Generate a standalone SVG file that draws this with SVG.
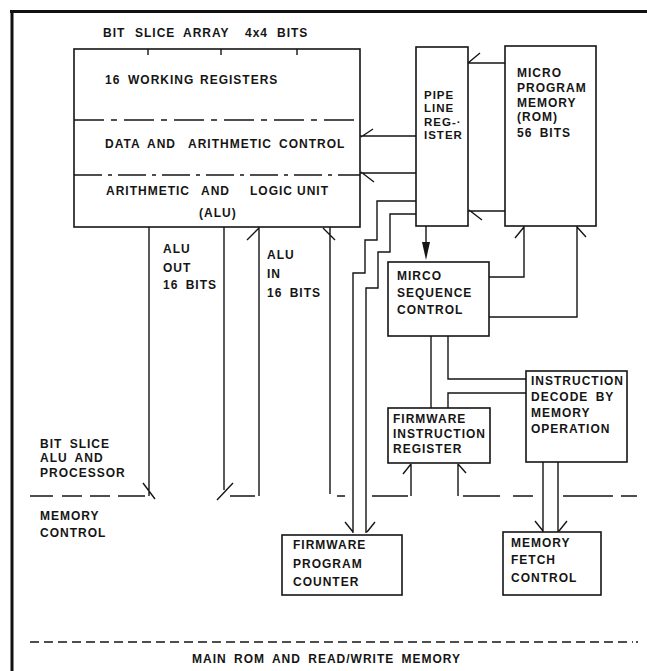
<svg xmlns="http://www.w3.org/2000/svg" width="647" height="671" viewBox="0 0 647 671">
<style>
.b{fill:none;stroke:#151515;stroke-width:1.6}
.c{fill:none;stroke:#151515;stroke-width:1.4}
.d{fill:none;stroke:#151515;stroke-width:1.5}
.t{font-family:"Liberation Sans",Arial,sans-serif;font-size:12px;font-weight:bold;letter-spacing:1px;word-spacing:3px;fill:#151515}
.s{font-size:11.5px}
</style>
<rect width="647" height="671" fill="#fff"/>
<path d="M10,11.5H647M12,10V671" fill="none" stroke="#111" stroke-width="3"/>

<g id="bitslice">
<text class="t" y="37"><tspan x="103">BIT</tspan><tspan x="135">SLICE</tspan><tspan x="183">ARRAY</tspan><tspan x="245">4x4</tspan><tspan x="277">BITS</tspan></text>
<rect class="b" x="74" y="49" width="286" height="178"/>
<path class="c" d="M148,49V55M221,49V55M297,49V55"/>
<path class="d" d="M74,120H360" stroke-dasharray="30 7 6 7"/>
<path class="d" d="M74,175H360" stroke-dasharray="28 6 4 6"/>
<text class="t" y="84"><tspan x="105">16</tspan><tspan x="128">WORKING</tspan><tspan x="200">REGISTERS</tspan></text>
<text class="t" y="148"><tspan x="105">DATA</tspan><tspan x="147">AND</tspan><tspan x="188">ARITHMETIC</tspan><tspan x="279">CONTROL</tspan></text>
<text class="t" y="195"><tspan x="106">ARITHMETIC</tspan><tspan x="201">AND</tspan><tspan x="250">LOGIC</tspan><tspan x="297">UNIT</tspan></text>
<text class="t" x="199" y="217">(ALU)</text>
</g>

<g id="pipeline">
<rect class="b" x="416" y="47" width="52" height="179"/>
<text class="t s" x="424" y="99">PIPE</text>
<text class="t s" x="424" y="112">LINE</text>
<text class="t s" x="424" y="126">REG-·</text>
<text class="t s" x="424" y="139">ISTER</text>
</g>

<g id="microprogram">
<rect class="b" x="505" y="46" width="91" height="180"/>
<text class="t" x="517" y="77">MICRO</text>
<text class="t" x="517" y="92">PROGRAM</text>
<text class="t" x="517" y="107">MEMORY</text>
<text class="t" x="517" y="121">(ROM)</text>
<text class="t" x="517" y="137">56 BITS</text>
</g>

<g id="mirco">
<rect class="b" x="388" y="262" width="101" height="74"/>
<text class="t" x="397" y="280">MIRCO</text>
<text class="t" x="397" y="297">SEQUENCE</text>
<text class="t" x="397" y="314">CONTROL</text>
</g>

<g id="fir">
<rect class="b" x="388" y="408" width="102" height="55"/>
<text class="t" x="393" y="423">FIRMWARE</text>
<text class="t" x="393" y="438">INSTRUCTION</text>
<text class="t" x="393" y="453">REGISTER</text>
</g>

<g id="idecode">
<rect class="b" x="526" y="371" width="101" height="91"/>
<text class="t" x="531" y="385">INSTRUCTION</text>
<text class="t" x="531" y="401">DECODE BY</text>
<text class="t" x="531" y="417">MEMORY</text>
<text class="t" x="531" y="433">OPERATION</text>
</g>

<g id="fpc">
<rect class="b" x="282" y="535" width="120" height="60"/>
<text class="t" x="293" y="549">FIRMWARE</text>
<text class="t" x="293" y="568">PROGRAM</text>
<text class="t" x="293" y="586">COUNTER</text>
</g>

<g id="mfc">
<rect class="b" x="503" y="532" width="98" height="63"/>
<text class="t" x="511" y="547">MEMORY</text>
<text class="t" x="511" y="564">FETCH</text>
<text class="t" x="511" y="582">CONTROL</text>
</g>

<g id="labels">
<text class="t" x="163" y="253">ALU</text>
<text class="t" x="163" y="272">OUT</text>
<text class="t" x="163" y="289">16 BITS</text>
<text class="t" x="267" y="259">ALU</text>
<text class="t" x="267" y="278">IN</text>
<text class="t" x="267" y="297">16 BITS</text>
<text class="t" x="40" y="448">BIT SLICE</text>
<text class="t" x="40" y="462">ALU AND</text>
<text class="t" x="40" y="477">PROCESSOR</text>
<text class="t" x="40" y="520">MEMORY</text>
<text class="t" x="40" y="537">CONTROL</text>
<text class="t" x="192" y="663">MAIN ROM AND READ/WRITE MEMORY</text>
</g>

<g id="connectors" class="c">
<path d="M505,63H468M468,63L480,53"/>
<path d="M505,211H468M469,210L482,220"/>
<path d="M416,136H360M361,137L373,129"/>
<path d="M416,173H360M361,172L374,182"/>
<path d="M416,201H377V240H365V273H353V533M345,522L353,532"/>
<path d="M416,214H390V252H378V288H366V533M375,522L367,532"/>
<path d="M426,226V250"/>
<polygon points="426,260 422,242 430,242" fill="#151515" stroke="none"/>
<path d="M489,277H524V226M524,227L515,238"/>
<path d="M489,317H577V226M577,227L586,237"/>
<path d="M431,336V408"/>
<path d="M448,336V379H526"/>
<path d="M526,393H448V408"/>
<path d="M411,496V464M411,464L403,474"/>
<path d="M458,496V464M458,464L466,473"/>
<path d="M543,462V532M535,521L543,531"/>
<path d="M558,462V532M567,521L559,531"/>
<path d="M149,227V496M143,483L155,499"/>
<path d="M224,227V490M217,500L233,483"/>
<path d="M259,496V227M259,228L247,240"/>
<path d="M330,494V227M323,228L335,240"/>
<path d="M30,496H53M62,496H82M90,496H110M118,496H145M230,496H255M337,496H345M372,496H408M463,496H500M513,496H533M563,496H613M621,496H637"/>
<path d="M30,642H633" stroke-dasharray="9 5"/>
<path d="M636,642H638"/>
</g>
</svg>
